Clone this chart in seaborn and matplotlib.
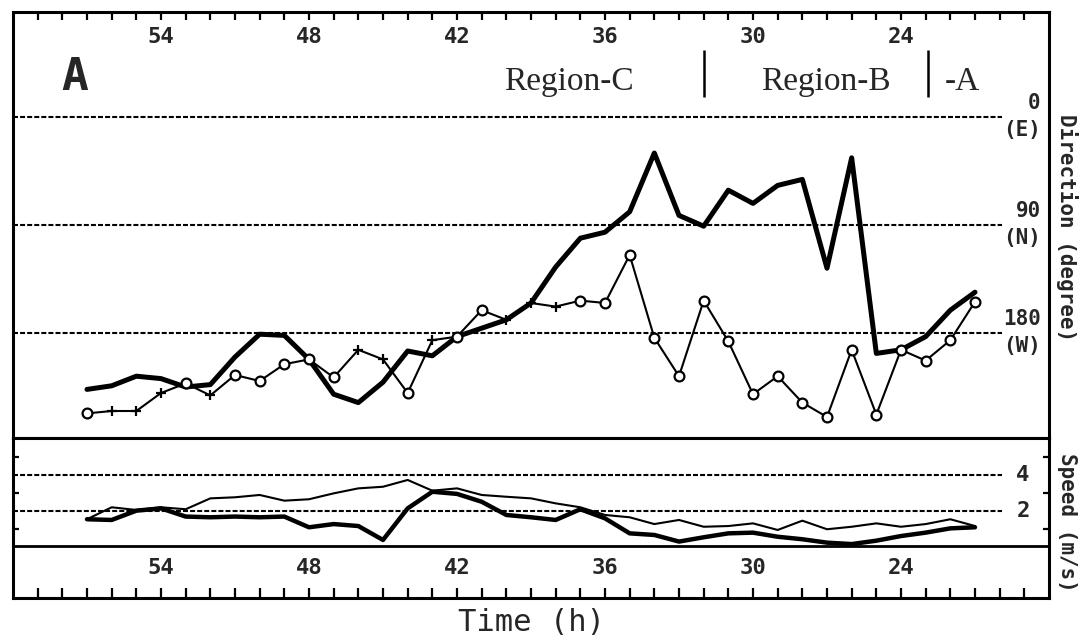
import numpy as np
import pandas as pd
import matplotlib
matplotlib.use("Agg")
import matplotlib.pyplot as plt
import seaborn as sns

# ---------------- data ----------------
hours = [57, 56, 55, 54, 53, 52, 51, 50, 49, 48, 47, 46, 45, 44, 43, 42, 41, 40, 39,
         38, 37, 36, 35, 34, 33, 32, 31, 30, 29, 28, 27, 26, 25, 24, 23, 22, 21]

dir_thick = [227, 224, 216, 218, 225, 223, 200, 181, 182, 202, 231, 238, 221, 195, 199,
             183, 176, 169, 155, 125, 101, 96, 79, 30, 82, 91, 61, 72, 57, 52, 126, 34,
             197, 194, 183, 161, 146]

dir_thin = [247, 245, 245, 230, 222, 232, 215, 220, 206, 202, 217, 194, 202, 230, 186,
            183, 161, 169, 155, 158, 153, 155, 115, 184, 216, 153, 187, 231, 216, 238,
            250, 194, 248, 194, 203, 186, 154]

thin_markers = ['o', '+', '+', '+', 'o', '+', 'o', 'o', 'o', 'o', 'o', '+', '+', 'o', '+',
                'o', 'o', '+', '+', '+', 'o', 'o', 'o', 'o', 'o', 'o', 'o', 'o', 'o', 'o',
                'o', 'o', 'o', 'o', 'o', 'o', 'o']

spd_thick = [1.52, 1.48, 2.00, 2.13, 1.67, 1.63, 1.67, 1.63, 1.67, 1.07, 1.25, 1.14, 0.36,
             2.13, 3.06, 2.94, 2.50, 1.76, 1.63, 1.48, 2.08, 1.57, 0.73, 0.64, 0.27, 0.51,
             0.73, 0.77, 0.54, 0.40, 0.21, 0.13, 0.32, 0.58, 0.77, 1.01, 1.07]

spd_thin = [1.52, 2.19, 2.04, 2.19, 2.08, 2.69, 2.75, 2.88, 2.56, 2.64, 2.97, 3.25, 3.34,
            3.72, 3.12, 3.25, 2.88, 2.78, 2.69, 2.41, 2.19, 1.76, 1.63, 1.25, 1.48, 1.10,
            1.14, 1.29, 0.92, 1.44, 0.96, 1.10, 1.29, 1.10, 1.25, 1.52, 1.14]

major_ticks = [54, 48, 42, 36, 30, 24]
minor_ticks = list(range(59, 18, -1))
dir_levels = [0, 90, 180]
dir_level_labels = ['0', '90', '180']
dir_compass = ['(E)', '(N)', '(W)']
spd_levels = [4, 2]
spd_level_labels = ['4', '2']
spd_yticks = [1, 3, 5]
region_names = ['Region-C', 'Region-B', '-A']
region_centers = [37.45, 27.05, 21.5]
region_bounds = [32.0, 22.9]

# ---------------- style ----------------
sns.set_style("white")
plt.rcParams['font.family'] = ['DejaVu Sans Mono', 'DejaVu Sans']

df_dir = pd.DataFrame({'t': hours, 'thick': dir_thick, 'thin': dir_thin, 'mk': thin_markers})
df_spd = pd.DataFrame({'t': hours, 'thick': spd_thick, 'thin': spd_thin})

W, H = 1082, 642
fig = plt.figure(figsize=(W / 100, H / 100), dpi=100)
left_px, right_px = 13, 1049
top_px, mid_px, bot_px = 12, 438, 598
ax_dir = fig.add_axes([left_px / W, 1 - mid_px / H, (right_px - left_px) / W, (mid_px - top_px) / H])
ax_spd = fig.add_axes([left_px / W, 1 - bot_px / H, (right_px - left_px) / W, (bot_px - mid_px) / H])

xlim = (60, 18)
line_end = 19.9
spine_lw = 2.2
dash = (0, (2.4, 1.0))

# ---------------- direction panel ----------------
ax = ax_dir
ax.set_xlim(*xlim)
ax.set_ylim(267.5, -87.5)
for lv in dir_levels:
    ax.hlines(lv, xlim[0], line_end, colors='black', linestyles=dash, linewidth=1.5, zorder=1)

sns.lineplot(data=df_dir, x='t', y='thin', color='black', linewidth=1.5, ax=ax, zorder=3)
sns.lineplot(data=df_dir, x='t', y='thick', color='black', linewidth=3.6, ax=ax, zorder=4)
circ = df_dir[df_dir['mk'] == 'o']
plus = df_dir[df_dir['mk'] == '+']
sns.scatterplot(data=circ, x='t', y='thin', marker='o', s=50, facecolor='white',
                edgecolor='black', linewidth=1.6, ax=ax, zorder=5)
sns.scatterplot(data=plus, x='t', y='thin', marker='+', s=60, color='black',
                linewidth=1.6, ax=ax, zorder=5)

ax.set_xlabel('')
ax.set_ylabel('')
ax.set_yticks([])
ax.xaxis.tick_top()
ax.set_xticks(major_ticks)
ax.set_xticks(minor_ticks, minor=True)
ax.set_xticklabels([str(v) for v in major_ticks])
ax.tick_params(axis='x', which='both', top=True, bottom=False, direction='in',
               length=6, width=1.6, color='black')
ax.tick_params(axis='x', which='major', labeltop=True, labelbottom=False, pad=-25,
               labelsize=16)
for lab in ax.get_xticklabels():
    lab.set_fontweight('bold')
for s in ax.spines.values():
    s.set_linewidth(spine_lw)
    s.set_color('black')

for lv, nl, cl in zip(dir_levels, dir_level_labels, dir_compass):
    ax.text(0.992, lv - 12, nl, transform=ax.get_yaxis_transform(), ha='right', va='center',
            fontsize=15, fontweight='bold')
    ax.text(0.992, lv + 11, cl, transform=ax.get_yaxis_transform(), ha='right', va='center',
            fontsize=15, fontweight='bold')

ax.text(57.5, -22.5, 'A', ha='center', va='baseline', fontsize=32, fontweight='bold',
        family=['DejaVu Sans Mono'])
for name, xc in zip(region_names, region_centers):
    ax.text(xc, -22.5, name, ha='center', va='baseline', fontsize=24,
            family=['Liberation Serif', 'DejaVu Serif'])
for xb in region_bounds:
    ax.vlines(xb, -55.5, -17, colors='black', linewidth=1.8)

# ---------------- speed panel ----------------
ax = ax_spd
ax.set_xlim(*xlim)
ax.set_ylim(-2.89, 6.07)
for lv in spd_levels:
    ax.hlines(lv, xlim[0], line_end, colors='black', linestyles=dash, linewidth=1.5, zorder=1)
ax.axhline(0, color='black', linewidth=2.0, zorder=2)

sns.lineplot(data=df_spd, x='t', y='thin', color='black', linewidth=1.5, ax=ax, zorder=3)
sns.lineplot(data=df_spd, x='t', y='thick', color='black', linewidth=3.2, ax=ax, zorder=4)

ax.set_xlabel('Time (h)', fontsize=22, labelpad=4)
ax.set_ylabel('')
ax.set_xticks(major_ticks)
ax.set_xticks(minor_ticks, minor=True)
ax.set_xticklabels([str(v) for v in major_ticks])
ax.tick_params(axis='x', which='both', bottom=True, top=False, direction='in',
               length=7, width=1.6, color='black')
ax.tick_params(axis='x', which='major', labelbottom=True, pad=-29, labelsize=16)
for lab in ax.get_xticklabels():
    lab.set_fontweight('bold')
ax.set_yticks(spd_yticks)
ax.tick_params(axis='y', left=True, right=True, labelleft=False, labelright=False,
               direction='in', length=4, width=1.6, color='black')
for s in ax.spines.values():
    s.set_linewidth(spine_lw)
    s.set_color('black')
for lv, lab in zip(spd_levels, spd_level_labels):
    ax.text(0.975, lv, lab, transform=ax.get_yaxis_transform(), ha='center', va='center',
            fontsize=16, fontweight='bold')

# right-hand axis titles
fig.text(1067 / W, 1 - 228 / H, 'Direction (degree)', rotation=-90, ha='center', va='center',
         fontsize=15, fontweight='bold')
fig.text(1067 / W, 1 - 522 / H, 'Speed (m/s)', rotation=-90, ha='center', va='center',
         fontsize=15, fontweight='bold')

fig.savefig('out.png', dpi=100, facecolor='white')
